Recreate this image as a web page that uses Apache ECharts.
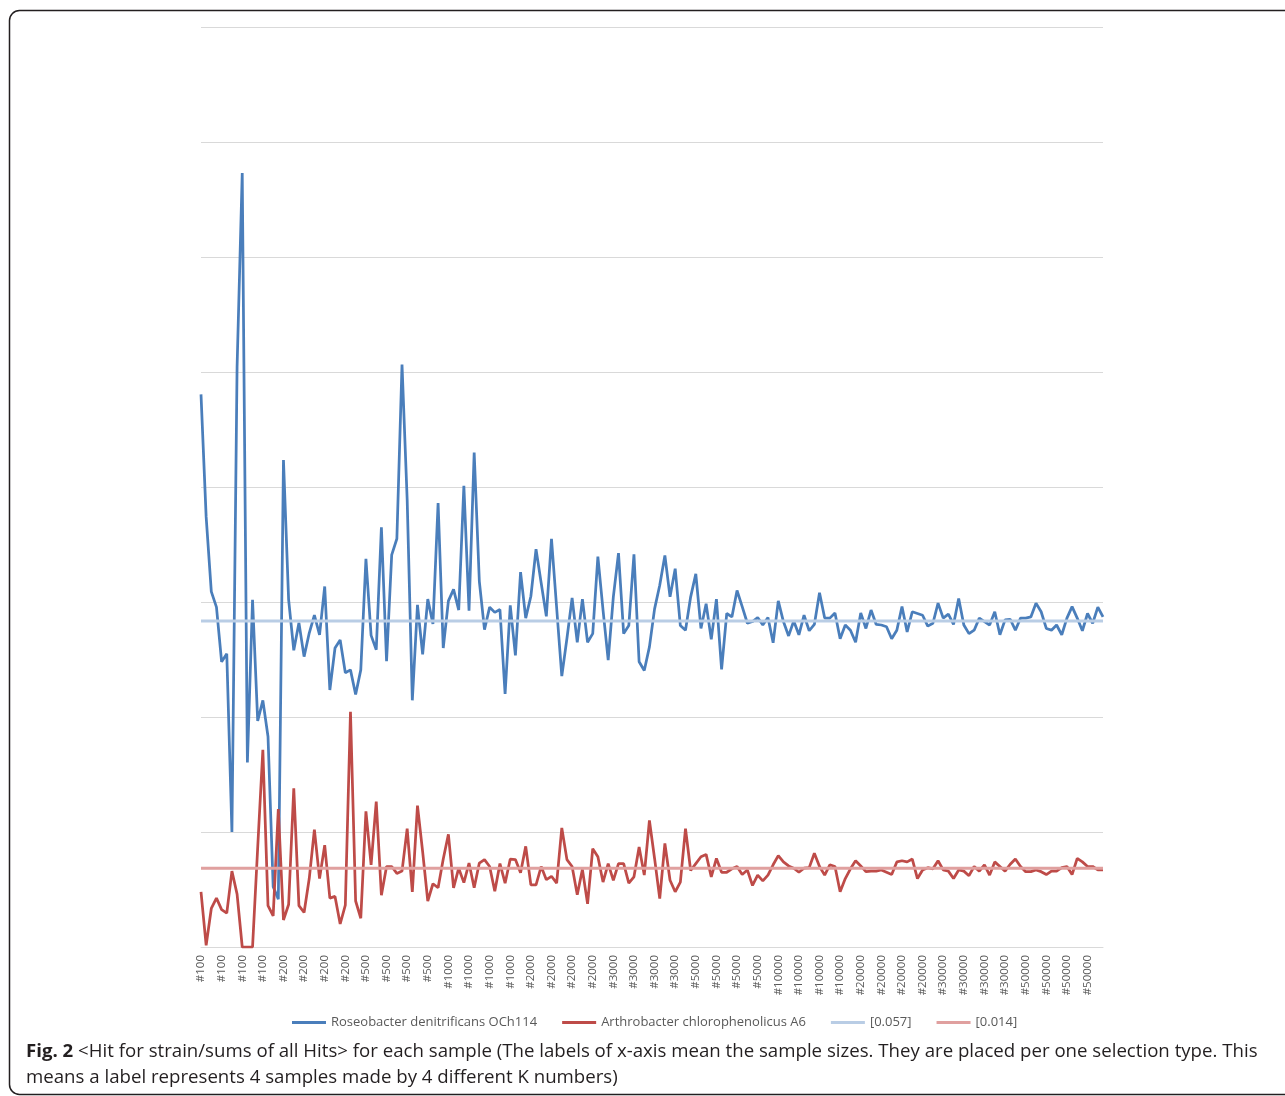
<!DOCTYPE html>
<html>
<head>
<meta charset="utf-8">
<script src="https://cdn.jsdelivr.net/npm/echarts@6/dist/echarts.min.js"></script>
<style>
html,body{margin:0;padding:0;background:#fff;}
#chart{width:1285px;height:1096px;}
</style>
</head>
<body>
<div id="chart"></div>
<script>
// ---- data ----
const sizeGroups = ['#100','#200','#500','#1000','#2000','#3000','#5000','#10000','#20000','#30000','#50000'];
const samplesPerGroup = 16;
const categories = [];
sizeGroups.forEach(g => { for (let k = 0; k < samplesPerGroup; k++) categories.push(g); });

const roseobacter = [
0.0961,0.0748,0.0618,0.0591,0.0496,0.0510,0.0200,0.1009,0.1346,0.0321,
0.0604,0.0393,0.0429,0.0366,0.0105,0.0083,0.0847,0.0604,0.0516,0.0564,
0.0505,0.0546,0.0577,0.0543,0.0627,0.0447,0.0520,0.0534,0.0477,0.0482,
0.0439,0.0482,0.0675,0.0542,0.0517,0.0730,0.0497,0.0682,0.0710,0.1013,
0.0778,0.0429,0.0595,0.0509,0.0605,0.0562,0.0772,0.0520,0.0602,0.0622,
0.0586,0.0802,0.0585,0.0860,0.0636,0.0552,0.0591,0.0582,0.0587,0.0440,
0.0594,0.0507,0.0652,0.0572,0.0610,0.0692,0.0633,0.0575,0.0710,0.0590,
0.0471,0.0537,0.0607,0.0530,0.0605,0.0530,0.0545,0.0679,0.0586,0.0499,
0.0609,0.0685,0.0545,0.0559,0.0683,0.0496,0.0481,0.0522,0.0588,0.0629,
0.0681,0.0609,0.0658,0.0559,0.0551,0.0609,0.0649,0.0554,0.0597,0.0535,
0.0605,0.0483,0.0580,0.0574,0.0620,0.0592,0.0563,0.0566,0.0573,0.0560,
0.0573,0.0529,0.0602,0.0566,0.0541,0.0567,0.0543,0.0577,0.0550,0.0561,
0.0616,0.0572,0.0572,0.0581,0.0536,0.0560,0.0551,0.0530,0.0581,0.0554,
0.0586,0.0561,0.0560,0.0557,0.0536,0.0551,0.0592,0.0548,0.0583,0.0580,
0.0577,0.0558,0.0563,0.0598,0.0572,0.0579,0.0561,0.0606,0.0560,0.0545,
0.0551,0.0572,0.0566,0.0560,0.0583,0.0543,0.0569,0.0570,0.0551,0.0572,
0.0572,0.0574,0.0598,0.0583,0.0554,0.0551,0.0560,0.0543,0.0572,0.0592,
0.0572,0.0550,0.0580,0.0563,0.0591,0.0574
];

const arthrobacter = [
0.0096,0.0003,0.0067,0.0085,0.0065,0.0059,0.0132,0.0092,0.0000,0.0000,
0.0000,0.0173,0.0343,0.0072,0.0054,0.0240,0.0047,0.0074,0.0276,0.0072,
0.0060,0.0119,0.0204,0.0119,0.0177,0.0085,0.0088,0.0040,0.0073,0.0409,
0.0080,0.0050,0.0236,0.0143,0.0253,0.0090,0.0140,0.0140,0.0128,0.0132,
0.0206,0.0096,0.0246,0.0166,0.0080,0.0110,0.0103,0.0153,0.0196,0.0103,
0.0137,0.0112,0.0146,0.0103,0.0146,0.0152,0.0140,0.0097,0.0145,0.0111,
0.0153,0.0152,0.0129,0.0175,0.0108,0.0108,0.0140,0.0117,0.0123,0.0111,
0.0207,0.0152,0.0140,0.0091,0.0135,0.0075,0.0171,0.0157,0.0113,0.0145,
0.0116,0.0145,0.0145,0.0111,0.0122,0.0174,0.0125,0.0220,0.0154,0.0084,
0.0180,0.0116,0.0096,0.0113,0.0206,0.0133,0.0145,0.0157,0.0161,0.0122,
0.0154,0.0130,0.0130,0.0136,0.0140,0.0126,0.0134,0.0107,0.0125,0.0115,
0.0125,0.0143,0.0159,0.0148,0.0141,0.0137,0.0130,0.0137,0.0138,0.0163,
0.0140,0.0125,0.0143,0.0140,0.0096,0.0119,0.0136,0.0150,0.0141,0.0131,
0.0132,0.0132,0.0134,0.0130,0.0126,0.0148,0.0150,0.0148,0.0153,0.0119,
0.0134,0.0138,0.0136,0.0150,0.0134,0.0132,0.0119,0.0134,0.0132,0.0124,
0.0140,0.0132,0.0143,0.0125,0.0148,0.0140,0.0132,0.0144,0.0153,0.0140,
0.0131,0.0131,0.0134,0.0131,0.0126,0.0132,0.0132,0.0138,0.0140,0.0126,
0.0154,0.0148,0.0140,0.0140,0.0134,0.0134
];

const refRoseoValue = 0.0567;
const refArthroValue = 0.0137;
const seriesNames = ['Roseobacter denitrificans OCh114','Arthrobacter chlorophenolicus A6','[0.057]','[0.014]'];
const captionBold = 'Fig. 2';
const captionLine1 = ' <Hit for strain/sums of all Hits> for each sample (The labels of x-axis mean the sample sizes. They are placed per one selection type. This';
const captionLine2 = 'means a label represents 4 samples made by 4 different K numbers)';

const refRoseo = categories.map(() => refRoseoValue);
const refArthro = categories.map(() => refArthroValue);

const chart = echarts.init(document.getElementById('chart'));
const font = '"Open Sans", "Noto Sans", sans-serif';
chart.setOption({
  animation: false,
  backgroundColor: '#ffffff',
  grid: { left: 201, width: 902, top: 27, height: 920 },
  xAxis: {
    type: 'category',
    data: categories,
    boundaryGap: false,
    axisLine: { lineStyle: { color: '#d9d9d9', width: 1 } },
    axisTick: { show: false },
    axisLabel: { interval: 3, rotate: 90, color: '#595959', fontSize: 11.5, fontFamily: font, margin: 8 },
    splitLine: { show: false }
  },
  yAxis: {
    type: 'value', min: 0, max: 0.16, interval: 0.02,
    axisLine: { show: false }, axisTick: { show: false }, axisLabel: { show: false },
    splitLine: { lineStyle: { color: '#d9d9d9', width: 1 } }
  },
  legend: {
    left: 287, top: 1011,
    icon: 'rect', itemWidth: 34, itemHeight: 3, itemGap: 25,
    textStyle: { color: '#595959', fontSize: 13, fontFamily: font },
    data: seriesNames
  },
  series: [
    { name: seriesNames[0], type: 'line', data: roseobacter, showSymbol: false, symbol: 'none',
      lineStyle: { color: '#4a7ebb', width: 2.75 }, itemStyle: { color: '#4a7ebb' } },
    { name: seriesNames[1], type: 'line', data: arthrobacter, showSymbol: false, symbol: 'none',
      lineStyle: { color: '#be4b48', width: 2.75 }, itemStyle: { color: '#be4b48' } },
    { name: seriesNames[2], type: 'line', data: refRoseo, showSymbol: false, symbol: 'none',
      lineStyle: { color: '#b9cde5', width: 3 }, itemStyle: { color: '#b9cde5' } },
    { name: seriesNames[3], type: 'line', data: refArthro, showSymbol: false, symbol: 'none',
      lineStyle: { color: '#e0a09f', width: 3 }, itemStyle: { color: '#e0a09f' } }
  ],
  graphic: [
    { type: 'rect', silent: true, shape: { x: 9.5, y: 10.5, width: 1330, height: 1084, r: 10 },
      style: { fill: 'none', stroke: '#231f20', lineWidth: 1.5 } },
    { type: 'text', silent: true,
      style: { x: 26, y: 1052, verticalAlign: 'middle', text: '{b|' + captionBold + '}' + captionLine1,
        fill: '#231f20', font: '18.65px ' + font,
        rich: { b: { fontWeight: 'bold', fontSize: 18.65, fontFamily: font, fill: '#231f20' } } } },
    { type: 'text', silent: true,
      style: { x: 26, y: 1078, verticalAlign: 'middle', text: captionLine2, fill: '#231f20', font: '18.65px ' + font } }
  ]
});
</script>
</body>
</html>
